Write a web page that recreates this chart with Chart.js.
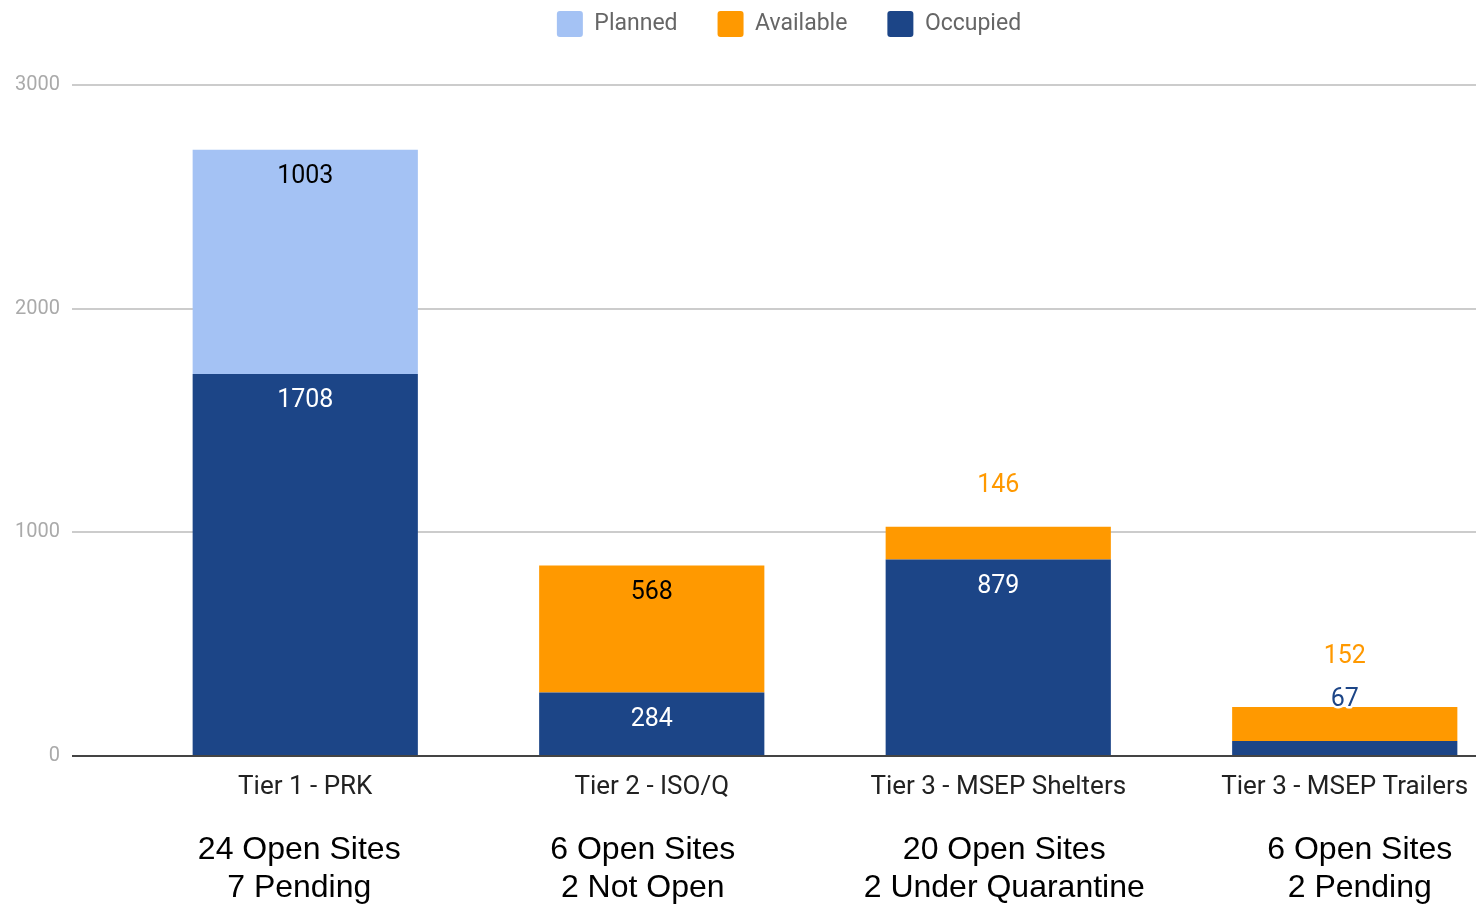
<!DOCTYPE html>
<html>
<head>
<meta charset="utf-8">
<script src="https://cdn.jsdelivr.net/npm/chart.js@4"></script>
<style>
  html, body { margin: 0; padding: 0; background: #fff; overflow: hidden; }
  #wrap { position: absolute; left: 0; top: -29px; width: 1520px; height: 934px; }
</style>
</head>
<body>
<div id="wrap"><canvas id="chart"></canvas></div>
<script>
// data
const categories = ['Tier 1 - PRK', 'Tier 2 - ISO/Q', 'Tier 3 - MSEP Shelters', 'Tier 3 - MSEP Trailers'];
const occupied = [1708, 284, 879, 67];
const available = [0, 568, 146, 152];
const planned = [1003, 0, 0, 0];
const siteNotes = [
  ['24 Open Sites', '7 Pending'],
  ['6 Open Sites', '2 Not Open'],
  ['20 Open Sites', '2 Under Quarantine'],
  ['6 Open Sites', '2 Pending'],
];
const yTicks = [0, 1000, 2000, 3000];

const COLORS = { planned: '#a4c2f4', available: '#ff9900', occupied: '#1c4587' };
const LABEL_INSIDE = { planned: '#000', available: '#000', occupied: '#fff' };

// value labels: inside the segment when it is tall enough, else stacked above the bar
const valueLabels = {
  id: 'valueLabels',
  afterDatasetsDraw(chart) {
    const ctx = chart.ctx;
    ctx.save();
    ctx.font = '25px Roboto';
    ctx.textAlign = 'center';
    ctx.textBaseline = 'middle';
    categories.forEach((_, j) => {
      let top = Infinity;
      const small = [];
      chart.data.datasets.forEach((ds, i) => {
        const bar = chart.getDatasetMeta(i).data[j];
        if (!ds.data[j]) return;
        top = Math.min(top, bar.y);
        const h = bar.base - bar.y;
        if (h >= 50) {
          ctx.fillStyle = LABEL_INSIDE[ds.key];
          ctx.fillText(String(ds.data[j]), bar.x, bar.y + 27);
        } else {
          small.push({ ds, x: bar.x });
        }
      });
      if (small.length === 1) {
        const s = small[0];
        ctx.fillStyle = COLORS[s.ds.key];
        ctx.fillText(String(s.ds.data[j]), s.x, top - 41);
      } else if (small.length > 1) {
        // lowest segment label just above the stack, with a white halo
        small.forEach((s, k) => {
          const y = k === 0 ? top - 7 : top - 50;
          ctx.lineWidth = 5;
          ctx.strokeStyle = '#fff';
          ctx.lineJoin = 'round';
          if (k === 0) ctx.strokeText(String(s.ds.data[j]), s.x, y);
          ctx.fillStyle = COLORS[s.ds.key];
          ctx.fillText(String(s.ds.data[j]), s.x, y);
        });
      }
    });
    ctx.restore();
  }
};

// site notes under each category (text boxes sit a little off the bar centres)
const noteShift = [-6, -9, 6, 15];
const notes = {
  id: 'notes',
  afterDraw(chart) {
    const ctx = chart.ctx;
    const xs = chart.scales.x;
    ctx.save();
    ctx.font = '32px "Liberation Sans", Arial, sans-serif';
    ctx.fillStyle = '#000';
    ctx.textAlign = 'center';
    ctx.textBaseline = 'middle';
    siteNotes.forEach((lines, j) => {
      const x = xs.getPixelForValue(j) + noteShift[j];
      lines.forEach((t, k) => ctx.fillText(t, x, xs.top + 94 + k * 38));
    });
    ctx.restore();
  }
};

// extra room under the legend and nudge it to the right like the original
const legendSpace = {
  id: 'legendSpace',
  afterInit(chart) {
    const lg = chart.legend;
    const fit = lg.fit;
    lg.fit = function () { fit.call(this); this.height += 38; };
  },
  afterLayout(chart) {
    chart.legend.left += 30;
    chart.legend.right += 30;
  }
};

new Chart(document.getElementById('chart'), {
  type: 'bar',
  data: {
    labels: categories,
    datasets: [
      { key: 'occupied', label: 'Occupied', data: occupied, backgroundColor: COLORS.occupied },
      { key: 'available', label: 'Available', data: available, backgroundColor: COLORS.available },
      { key: 'planned', label: 'Planned', data: planned, backgroundColor: COLORS.planned },
    ]
  },
  options: {
    responsive: true,
    maintainAspectRatio: false,
    animation: false,
    datasets: { bar: { categoryPercentage: 1, barPercentage: 0.65 } },
    layout: { padding: { top: 0, right: 2, bottom: 0, left: 0 } },
    plugins: {
      tooltip: { enabled: false },
      legend: {
        position: 'top',
        reverse: true,
        labels: {
          boxWidth: 26, boxHeight: 26, padding: 40,
          useBorderRadius: true, borderRadius: 3,
          color: '#666', font: { family: 'Roboto', size: 23 }
        }
      }
    },
    scales: {
      x: {
        stacked: true,
        grid: { display: false, drawTicks: false },
        border: { display: false },
        ticks: { color: '#222', font: { family: 'Roboto', size: 26 }, padding: 16, maxRotation: 0, autoSkip: false },
        afterFit(s) { s.height = 149; }
      },
      y: {
        stacked: true,
        min: 0, max: 3000,
        afterBuildTicks(s) { s.ticks = yTicks.map(v => ({ value: v })); },
        grid: {
          color: c => c.tick && c.tick.value === 0 ? '#444' : '#ccc',
          tickColor: c => c.tick && c.tick.value === 0 ? '#444' : '#ccc',
          lineWidth: 2, tickLength: 60, drawTicks: true
        },
        border: { display: false },
        ticks: { color: '#aaa', font: { family: 'Roboto', size: 20 }, padding: 12, callback: v => String(v) },
        afterFit(s) { s.width = 132; }
      }
    }
  },
  plugins: [valueLabels, notes, legendSpace]
});
</script>
</body>
</html>
